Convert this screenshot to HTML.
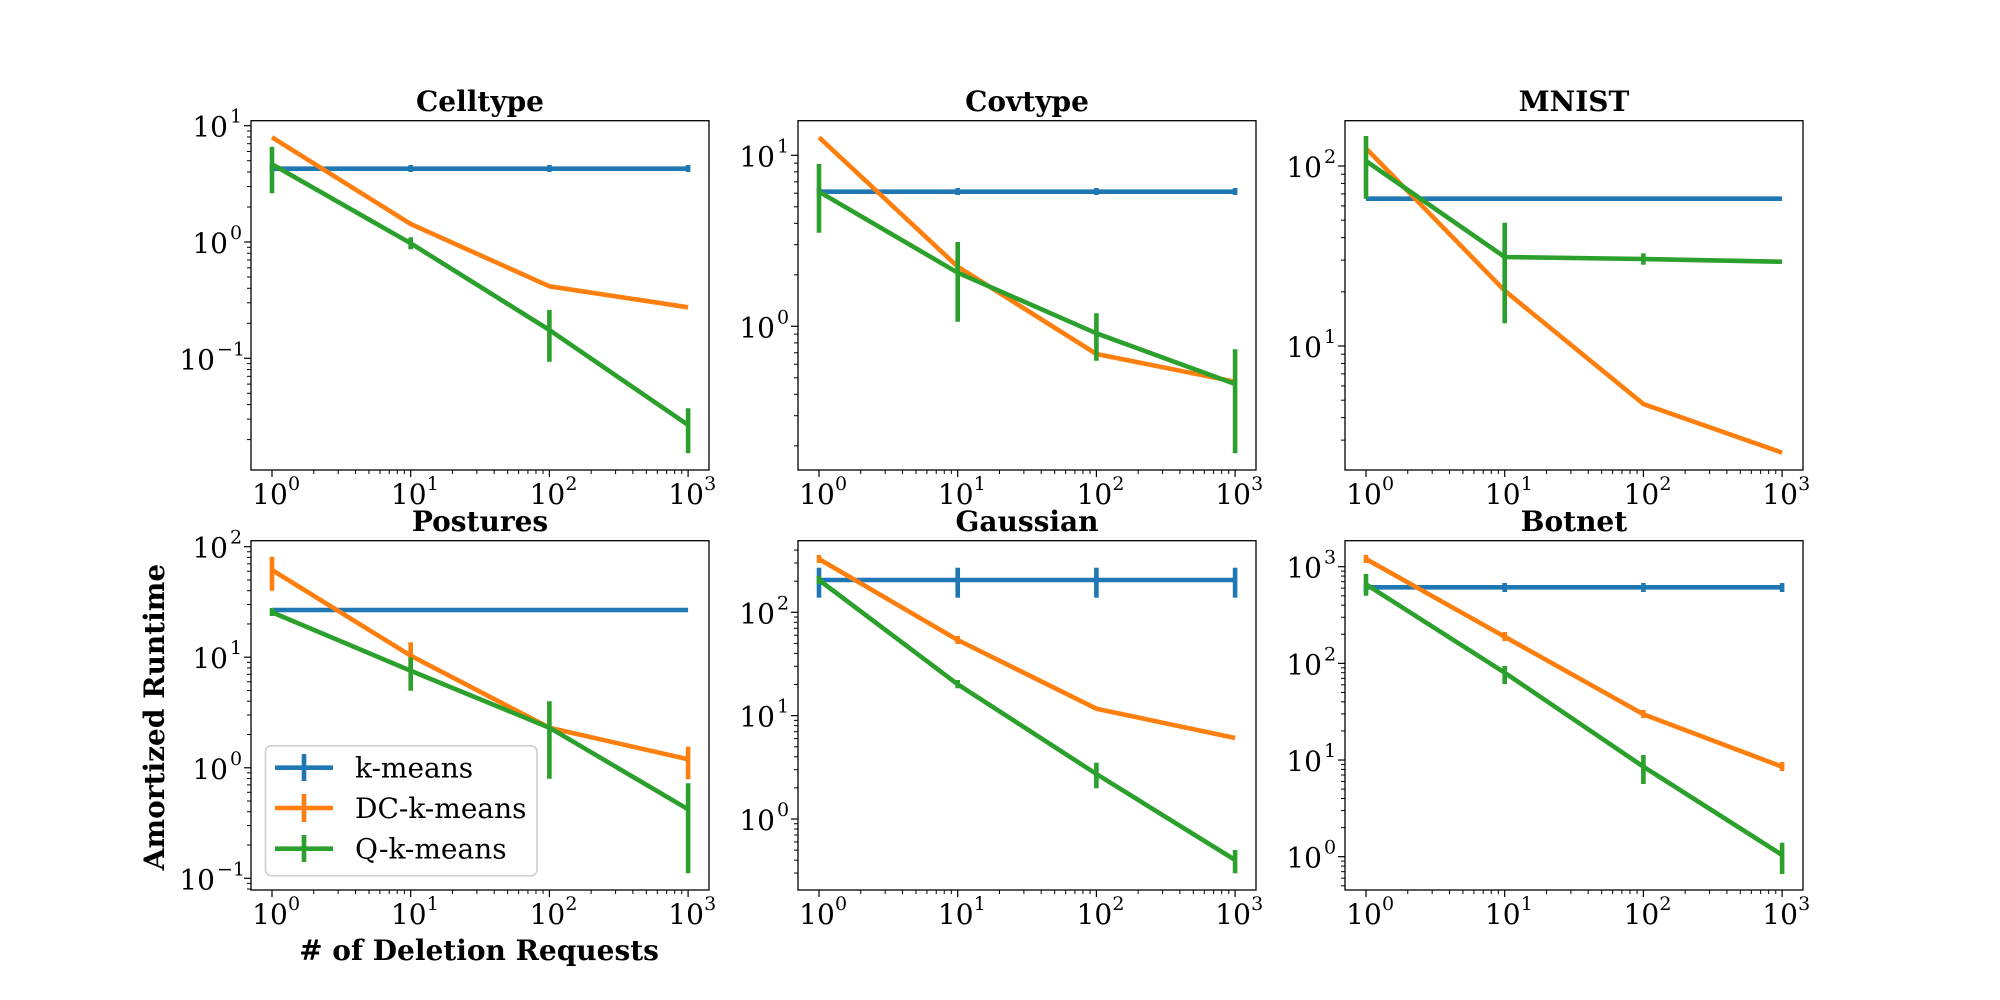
<!DOCTYPE html>
<html><head><meta charset="utf-8"><style>
html,body{margin:0;padding:0;background:#fff;}
svg{display:block;}
text{font-family:"DejaVu Serif","Liberation Serif",serif;fill:#000;}
.t{font-size:28px;font-weight:bold;text-anchor:middle;}
.tk{font-size:28px;}
.sup{font-size:19px;}
.lg{font-size:28px;}
</style></head><body>
<svg id="s" width="2000" height="1000" viewBox="0 0 2000 1000" xmlns="http://www.w3.org/2000/svg">
<g id="g"></g>
<text class="t" x="480" y="111">Celltype</text>
<text class="t" x="1027" y="111">Covtype</text>
<text class="t" x="1574" y="111">MNIST</text>
<text class="t" x="480" y="531">Postures</text>
<text class="t" x="1027" y="531">Gaussian</text>
<text class="t" x="1574" y="531">Botnet</text>
<text x="479" y="960" style="font-size:28px;font-weight:bold;text-anchor:middle">
# of Deletion Requests</text>
<text transform="translate(164,717) rotate(-90)" style="font-size:28px;font-weight:bold;text-anchor:middle">Amortized Runtime</text>
<g id="labels"></g>
<rect x="265.5" y="745.7" width="271.5" height="130" rx="6" fill="#fff" fill-opacity="0.85" stroke="#ccc" stroke-width="1.5"/>
<g stroke-width="4.6">
<line x1="275" y1="767.7" x2="333" y2="767.7" stroke="#1f77b4"/><line x1="304" y1="754" x2="304" y2="781" stroke="#1f77b4"/>
<line x1="275" y1="808" x2="333" y2="808" stroke="#ff7f0e"/><line x1="304" y1="794" x2="304" y2="822" stroke="#ff7f0e"/>
<line x1="275" y1="848.7" x2="333" y2="848.7" stroke="#2ca02c"/><line x1="304" y1="835" x2="304" y2="862" stroke="#2ca02c"/>
</g>
<text class="lg" x="355" y="777.5">k-means</text>
<text class="lg" x="355" y="818">DC-k-means</text>
<text class="lg" x="355" y="858.5">Q-k-means</text>
</svg>
<script>
var NS="http://www.w3.org/2000/svg";
var g=document.getElementById('g'), lab=document.getElementById('labels');
function el(t,a,p){var e=document.createElementNS(NS,t);for(var k in a)e.setAttribute(k,a[k]);(p||g).appendChild(e);return e;}
var C={b:"#1f77b4",o:"#ff7f0e",g:"#2ca02c"};
var P=[
 {L:251,T:120.7,B:470,d:[[1,125.7],[0,242.3],[-1,358.3]],
  s:[["b",[168.7,168.7,168.7,168.7],[[165,172],[165,172],[165,172],[165,172]]],
     ["o",[137.3,224,286.3,307.3],null],
     ["g",[164.3,243.3,330,425],[[146.7,193.3],[237.3,249.3],[310,361.7],[408.3,453.3]]]]},
 {L:798,T:120.7,B:470,d:[[1,155.3],[0,326.3]],
  s:[["b",[191.7,191.7,191.7,191.7],[[188,195],[188,195],[188,195],[188,195]]],
     ["o",[137.3,266.7,354,381.7],null],
     ["g",[191.7,272.7,333.3,384],[[164,232.7],[242,321.7],[313.3,360.7],[349.3,453.3]]]]},
 {L:1345,T:120.7,B:470,d:[[2,166],[1,346]],
  s:[["b",[198.7,198.7,198.7,198.7],null],
     ["o",[148.3,290.7,404,452.7],null],
     ["g",[161,257,259,261.7],[[136,198.7],[222.7,323.3],[253.3,264.7],null]]]},
 {L:251,T:540.7,B:890,d:[[2,546.7],[1,657.7],[0,767.7],[-1,878.3]],
  s:[["b",[610,610,610,610],null],
     ["o",[570,655.7,727.7,759.3],[[556.7,590.7],[642.3,668.3],null,[746.7,779.3]]],
     ["g",[612.3,670.7,727.7,809.3],[[608,616],[657.3,690.7],[701.3,778.7],[783.3,873.3]]]]},
 {L:798,T:540.7,B:890,d:[[2,612.3],[1,716],[0,819]],
  s:[["b",[580,580,580,580],[[567.7,597.7],[567.7,597.7],[567.7,597.7],[567.7,597.7]]],
     ["o",[559,640,708.7,738],[[555,563],[636,644],null,null]],
     ["g",[580,684.3,774,860],[[576,584],[680,688.3],[762.7,788.3],[850,873.3]]]]},
 {L:1345,T:540.7,B:890,d:[[3,566.7],[2,663],[1,760],[0,856.7]],
  s:[["b",[587.3,587.3,587.3,587.3],[[583,592],[583,592],[583,592],[583,592]]],
     ["o",[559,636.7,714.3,766.7],[[555,563],[632,641],[710,718],[762,771]]],
     ["g",[584.3,672.7,766.7,855],[[574,595.7],[666,684],[755,784],[842.7,874]]]]}
];
var W=458, DX=138.7, X0=21;
P.forEach(function(p){
  var L=p.L,R=L+W,T=p.T,B=p.B;
  var d0=p.d[0],d1=p.d[p.d.length-1];
  var dp=(d1[1]-d0[1])/(d0[0]-d1[0]);
  function Y(e){return d0[1]+(d0[0]-e)*dp;}
  for(var e=0;e<=3;e++){
    var x=L+X0+e*DX;
    el('line',{x1:x,x2:x,y1:B,y2:B+7,stroke:'#000','stroke-width':1.2});
    var t=el('text',{x:x-2,y:B+34,'class':'tk','text-anchor':'middle'},lab);
    t.textContent='10';
    var s=el('text',{x:x+16,y:B+20,'class':'sup'},lab);s.textContent=String(e);
    if(e<3)for(var k=2;k<=9;k++){var xm=x+Math.log10(k)*DX;el('line',{x1:xm,x2:xm,y1:B,y2:B+4,stroke:'#000','stroke-width':1});}
  }
  for(var e=-3;e<=4;e++){
    var y=Y(e);
    if(y>=T-0.5&&y<=B+0.5){
      el('line',{x1:L-7,x2:L,y1:y,y2:y,stroke:'#000','stroke-width':1.2});
      var sx=String(e).replace('-','\u2212');
      var sw=sx.length>1?26:13;
      var t=el('text',{x:L-10-sw,y:y+11,'class':'tk','text-anchor':'end'},lab);t.textContent='10';
      var s=el('text',{x:L-8-sw,y:y-3,'class':'sup'},lab);s.textContent=sx;
    }
    for(var k=2;k<=9;k++){var ym=y-Math.log10(k)*dp;if(ym>T&&ym<B)el('line',{x1:L-4,x2:L,y1:ym,y2:ym,stroke:'#000','stroke-width':1});}
  }
  p.s.forEach(function(s){
    var pts=s[1].map(function(v,i){return (L+X0+i*DX)+','+v;}).join(' ');
    el('polyline',{points:pts,fill:'none',stroke:C[s[0]],'stroke-width':4.6,'stroke-linejoin':'round'});
    if(s[2])s[2].forEach(function(r,i){if(!r)return;var x=L+X0+i*DX;
      el('line',{x1:x,x2:x,y1:r[0],y2:r[1],stroke:C[s[0]],'stroke-width':4.6});});
  });
  el('rect',{x:L,y:T,width:W,height:B-T,fill:'none',stroke:'#000','stroke-width':1.3});
});
</script>
</body></html>
